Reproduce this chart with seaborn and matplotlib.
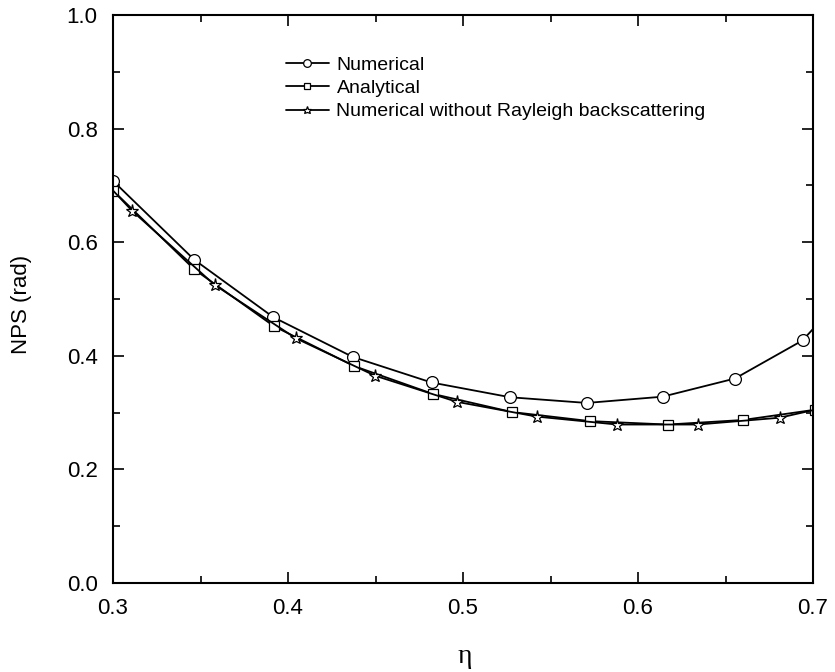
import numpy as np
import pandas as pd
import matplotlib
matplotlib.use("Agg")
import matplotlib.pyplot as plt
import seaborn as sns
from matplotlib.ticker import MultipleLocator, FormatStrFormatter

# Data
num_x = [0.300, 0.3465, 0.3916, 0.437, 0.482, 0.527, 0.5707, 0.614, 0.6554, 0.694, 0.735]
num_y = [0.708, 0.569, 0.468, 0.398, 0.353, 0.327, 0.317, 0.328, 0.360, 0.427, 0.565]

ana_x = [0.300, 0.3465, 0.392, 0.4377, 0.4827, 0.528, 0.5726, 0.617, 0.660, 0.701]
ana_y = [0.691, 0.552, 0.452, 0.382, 0.333, 0.301, 0.285, 0.279, 0.287, 0.305]

star_x = [0.300, 0.311, 0.358, 0.4044, 0.4497, 0.4964, 0.542, 0.588, 0.634, 0.681, 0.701]
star_y = [0.691, 0.655, 0.525, 0.431, 0.365, 0.319, 0.293, 0.279, 0.279, 0.291, 0.305]

labels = ["Numerical", "Analytical", "Numerical without Rayleigh backscattering"]

sns.set_style("ticks")
plt.rcParams["font.family"] = ["Liberation Sans", "DejaVu Sans"]
plt.rcParams["text.color"] = "black"
plt.rcParams["axes.labelcolor"] = "black"

fig = plt.figure(figsize=(8.35, 6.72), dpi=100)
ax = fig.add_axes([113/835, 89/672, 700/835, 568/672])

df_num = pd.DataFrame({"x": num_x, "y": num_y})
df_ana = pd.DataFrame({"x": ana_x, "y": ana_y})
df_star = pd.DataFrame({"x": star_x, "y": star_y})

common = dict(color="black", linewidth=1.3, markerfacecolor="white",
              markeredgecolor="black", markeredgewidth=0.9)

sns.lineplot(data=df_num, x="x", y="y", ax=ax, marker="o", markersize=8.5,
             label=labels[0], sort=False, **common)
sns.lineplot(data=df_ana, x="x", y="y", ax=ax, marker="s", markersize=7.5,
             label=labels[1], sort=False, **common)
sns.lineplot(data=df_star, x="x", y="y", ax=ax, marker="*", markersize=9.5,
             label=labels[2], sort=False, markevery=slice(1, -1), **common)

ax.set_xlim(0.3, 0.7)
ax.set_ylim(0.0, 1.0)
ax.xaxis.set_major_locator(MultipleLocator(0.1))
ax.xaxis.set_minor_locator(MultipleLocator(0.05))
ax.yaxis.set_major_locator(MultipleLocator(0.2))
ax.yaxis.set_minor_locator(MultipleLocator(0.1))
ax.xaxis.set_major_formatter(FormatStrFormatter("%.1f"))
ax.yaxis.set_major_formatter(FormatStrFormatter("%.1f"))

ax.tick_params(which="both", direction="in", top=True, right=True,
               width=1.2, colors="black")
ax.tick_params(which="major", length=8, labelsize=16)
ax.tick_params(which="minor", length=5)
ax.tick_params(axis="x", which="major", pad=11)
ax.tick_params(axis="y", which="major", pad=11)
for s in ax.spines.values():
    s.set_linewidth(1.5)
    s.set_color("black")

ax.set_xlabel("η", fontsize=20, family=["Liberation Serif", "DejaVu Serif"],
              va="center", color="black")
ax.xaxis.set_label_coords(0.502, -0.13)
ax.set_ylabel("NPS (rad)", fontsize=16, color="black")
ax.yaxis.set_label_coords(-0.1157, 0.49)

leg = ax.legend(loc="upper left", bbox_to_anchor=(0.247, 0.928), frameon=False,
                fontsize=14, handlelength=2.2, handletextpad=0.4,
                labelspacing=0.3, borderpad=0, borderaxespad=0, markerscale=0.65)

fig.savefig("out.png", dpi=100)
